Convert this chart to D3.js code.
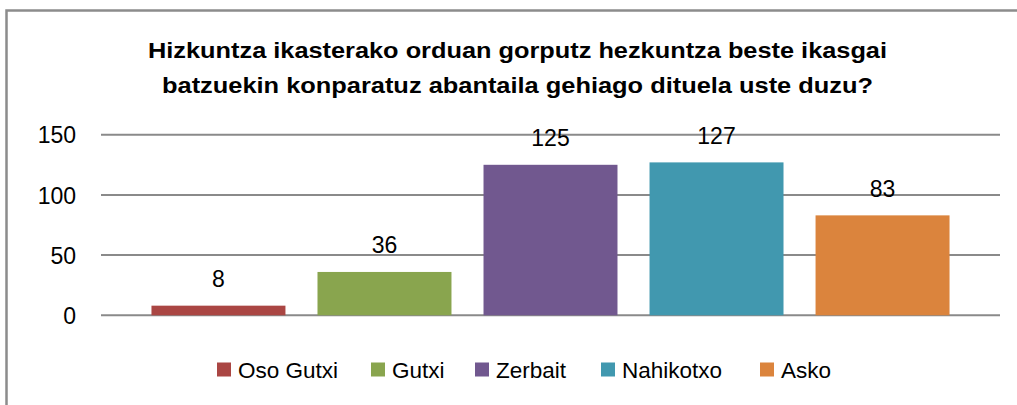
<!DOCTYPE html>
<html>
<head>
<meta charset="utf-8">
<script src="https://cdn.jsdelivr.net/npm/d3@7"></script>
<style>
  body { margin: 0; background: #fff; }
  svg text { font-family: "Liberation Sans", Arial, sans-serif; }
</style>
</head>
<body>
<div id="chart"></div>
<script>
// chart data
var categories = ["Oso Gutxi", "Gutxi", "Zerbait", "Nahikotxo", "Asko"]
var values = [8, 36, 125, 127, 83]
var colors = ["#aa4643", "#89a54e", "#71588f", "#4198af", "#db843d"]
var yTicks = [0, 50, 100, 150]
var titleLines = ["Hizkuntza ikasterako orduan gorputz hezkuntza beste ikasgai",
                  "batzuekin konparatuz abantaila gehiago dituela uste duzu?"]

var width = 1017, height = 405

var svg = d3.select("#chart").append("svg")
  .attr("width", width)
  .attr("height", height)

// outer frame (cropped at right / bottom)
svg.append("rect")
  .attr("x", 6.5).attr("y", 10.5)
  .attr("width", 1030).attr("height", 420)
  .attr("fill", "none")
  .attr("stroke", "#8c8c8c")
  .attr("stroke-width", 2.5)

// title, stretched to the width it has in the original
var titlePos = [{x: 148, y: 57.5, w: 739}, {x: 162, y: 93, w: 711}]
svg.selectAll(".title").data(titleLines).enter().append("text")
  .attr("class", "title")
  .attr("x", function(d, i) { return titlePos[i].x })
  .attr("y", function(d, i) { return titlePos[i].y })
  .attr("textLength", function(d, i) { return titlePos[i].w })
  .attr("lengthAdjust", "spacingAndGlyphs")
  .style("font-weight", "bold")
  .style("font-size", "22.5px")
  .attr("fill", "#000")
  .text(function(d) { return d })

var x = d3.scaleBand()
  .domain(categories)
  .range([101, 1000])
  .paddingInner(0.193)
  .paddingOuter(0.304)

var y = d3.scaleLinear()
  .domain([0, 150])
  .range([315.3, 134.7])

// gridlines
svg.append("g")
  .selectAll("line").data(yTicks).enter().append("line")
  .attr("x1", 101).attr("x2", 1000)
  .attr("y1", function(d) { return y(d) })
  .attr("y2", function(d) { return y(d) })
  .attr("stroke", "#8a8a8a")
  .attr("stroke-width", 2)

// y axis labels
var yAxis = d3.axisLeft(y).tickValues(yTicks).tickSize(0).tickPadding(0)
var ya = svg.append("g").attr("transform", "translate(76,0)").call(yAxis)
ya.select(".domain").remove()
ya.selectAll("text")
  .style("font-size", "23px")
  .style("font-family", "\"Liberation Sans\", Arial, sans-serif")
  .attr("fill", "#000")
  .attr("dy", "0.36em")

// bars
svg.selectAll(".bar").data(values).enter().append("rect")
  .attr("class", "bar")
  .attr("x", function(d, i) { return x(categories[i]) })
  .attr("y", function(d) { return y(d) })
  .attr("width", x.bandwidth())
  .attr("height", function(d) { return y(0) - y(d) })
  .attr("fill", function(d, i) { return colors[i] })

// value labels
svg.selectAll(".lbl").data(values).enter().append("text")
  .attr("class", "lbl")
  .attr("x", function(d, i) { return x(categories[i]) + x.bandwidth() / 2 })
  .attr("y", function(d) { return y(d) - 18.5 })
  .attr("text-anchor", "middle")
  .style("font-size", "23px")
  .attr("fill", "#000")
  .text(function(d) { return d })

// legend
var legX = [217, 371, 475, 601, 760]
var leg = svg.selectAll(".leg").data(categories).enter().append("g")
  .attr("class", "leg")
  .attr("transform", function(d, i) { return "translate(" + legX[i] + ",362.5)" })
leg.append("rect")
  .attr("width", 14).attr("height", 14)
  .attr("fill", function(d, i) { return colors[i] })
leg.append("text")
  .attr("x", 21).attr("y", 15.2)
  .style("font-size", "22.5px")
  .attr("fill", "#000")
  .text(function(d) { return d })
</script>
</body>
</html>
